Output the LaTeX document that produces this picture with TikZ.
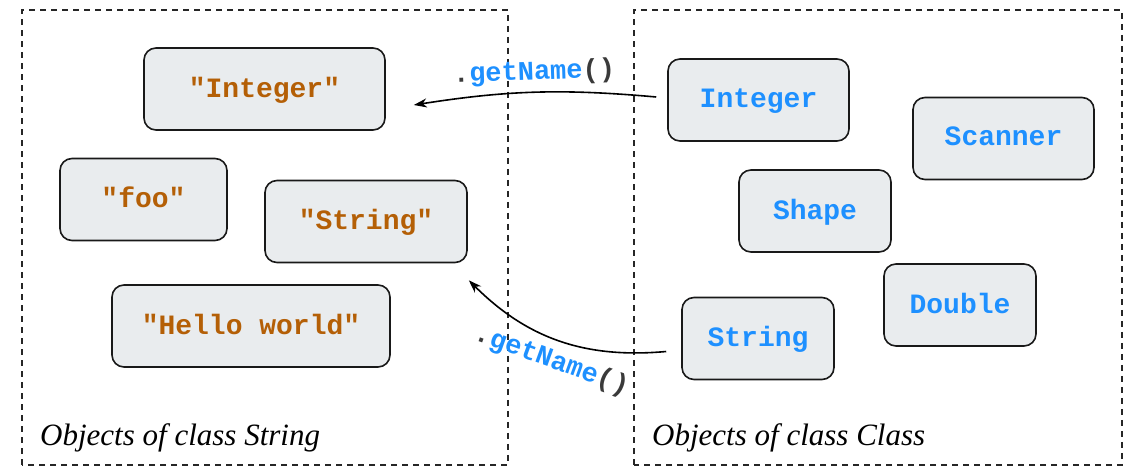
\documentclass[tikz,border=0pt]{standalone}
\usepackage{fontspec}
\setmainfont{Liberation Serif}
\setmonofont{Liberation Mono}
\usetikzlibrary{arrows.meta}
\definecolor{strbrown}{HTML}{B45F06}
\definecolor{clsblue}{HTML}{1E90FF}
\definecolor{boxgray}{HTML}{E9ECEE}
\definecolor{punctgray}{HTML}{3A3A3A}
\tikzset{
  obj/.style={draw=black!90, fill=boxgray, rounded corners=12pt, line width=1.6pt, minimum height=82pt, text depth=4pt, font=\fontsize{28}{30}\selectfont\ttfamily\bfseries},
  strobj/.style={obj, text=strbrown}, clsobj/.style={obj, text=clsblue},
  frame/.style={dash pattern=on 6pt off 5pt, line width=1.3pt, black!85},
  caption/.style={anchor=base west, inner sep=0pt, font=\fontsize{31}{33}\selectfont\itshape},
  call/.style={-{Stealth[length=13pt, width=9pt, inset=4pt]}, line width=1.6pt},
  calllabel/.style={font=\fontsize{27}{29}\selectfont\ttfamily\bfseries, sloped, inner sep=2pt},
}
\newcommand{\getname}{\textcolor{punctgray}{.}\textcolor{clsblue}{getName}\textcolor{punctgray}{()}}

\begin{document}
\begin{tikzpicture}[x=1pt, y=1pt]
    \useasboundingbox (0,0) rectangle (1131,468);
    % the two groups of objects
    \draw[frame] (22,3) rectangle (508,458);
    \draw[frame] (634,3) rectangle (1122,458);
    \node[caption] (strcap) at (40,23) {Objects of class String};
    \node[caption] (clscap) at (652,23) {Objects of class Class};
    % String objects
    \node[strobj, minimum width=241pt] (sint) at (264.50,379.00) {"Integer"};
    \node[strobj, minimum width=167pt] (sfoo) at (143.50,268.50) {"foo"};
    \node[strobj, minimum width=202pt] (sstr) at (366.00,246.50) {"String"};
    \node[strobj, minimum width=278pt] (shello) at (251.00,142.00) {"Hello world"};
    % Class objects
    \node[clsobj, minimum width=181pt] (cint) at (758.50,368.00) {Integer};
    \node[clsobj, minimum width=181pt] (cscan) at (1003.50,329.50) {Scanner};
    \node[clsobj, minimum width=152pt] (cshape) at (815.00,257.00) {Shape};
    \node[clsobj, minimum width=152pt] (cdouble) at (960.00,163.00) {Double};
    \node[clsobj, minimum width=152pt] (cstr) at (758.00,129.50) {String};
    % getName() calls
    \draw[call] ([xshift=-11pt,yshift=3pt]cint.west) to[bend right=7]
      node[midway, calllabel, above=4pt] {\getname} ([xshift=28pt,yshift=-16pt]sint.east);
    \draw[call] ([xshift=-15pt,yshift=-13pt]cstr.west) to[bend left=25]
      node[midway, calllabel, below=6pt] {\getname} ([xshift=1pt,yshift=-17pt]sstr.south east);
  \end{tikzpicture}
\end{document}
